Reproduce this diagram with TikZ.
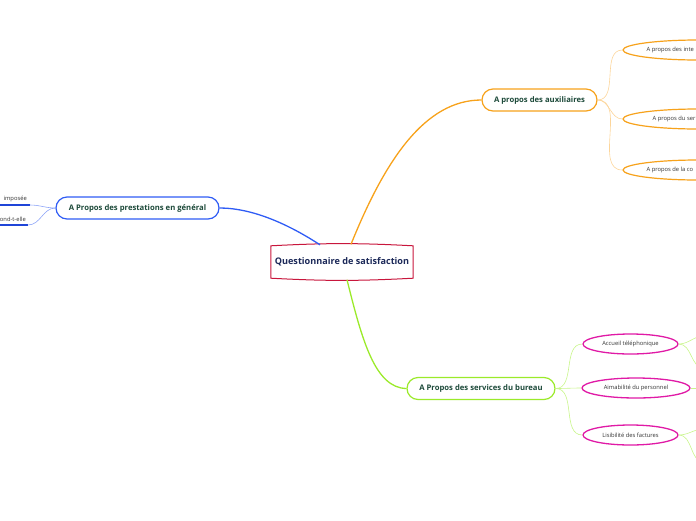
\documentclass[tikz,border=0pt]{standalone}
\usepackage{fontspec}
\setmainfont{Open Sans}
\usetikzlibrary{shapes.geometric}
\definecolor{rootred}{HTML}{C8163C}
\definecolor{rootink}{HTML}{1B2858}
\definecolor{nodeink}{HTML}{1D4A3A}
\definecolor{leafink}{HTML}{333333}
\definecolor{bluec}{HTML}{2F5CF5}
\definecolor{bluesoft}{HTML}{8FA6F8}
\definecolor{bluestrong}{HTML}{1F45D8}
\definecolor{orangec}{HTML}{F7A21B}
\definecolor{orangesoft}{HTML}{FCD59A}
\definecolor{greenc}{HTML}{9BEA2A}
\definecolor{greensoft}{HTML}{C8F58A}
\definecolor{pinkc}{HTML}{E01AA6}

\tikzset{
  topic/.style={draw, rounded corners=11pt, line width=1.2pt, fill=white, minimum height=22pt,
    text=nodeink, font=\fontsize{7.7}{9}\selectfont\bfseries},
  oleaf/.style={ellipse, draw=orangec, line width=1.2pt, fill=white, minimum width=150pt, minimum height=20pt},
  pleaf/.style={ellipse, draw=pinkc, line width=1.3pt, fill=white, minimum height=20pt,
    text=leafink, font=\fontsize{5.8}{7}\selectfont},
  leaftext/.style={text=leafink, font=\fontsize{5.8}{7}\selectfont, inner sep=0pt},
  trunk/.style={line width=1.3pt},
  twig/.style={line width=0.6pt},
}

\begin{document}
\begin{tikzpicture}[x=1pt, y=-1pt]
    \useasboundingbox (0,0) rectangle (696,520);
    % centre
    \node[minimum width=142pt, minimum height=32pt, text=rootink, font=\fontsize{9.1}{11}\selectfont\bfseries] (root) at (342,262) {Questionnaire de satisfaction};
    \draw[rootred, line width=1pt] (root.north west) to[bend left=3] (root.north east) -- (root.south east) to[bend left=3] (root.south west) -- cycle;
    % main topics
    \node[topic, draw=bluec, minimum width=163pt] (gen) at (137.5,208) {A Propos des prestations en général};
    \node[topic, draw=orangec, minimum width=115pt] (aux) at (539.5,100) {A propos des auxiliaires};
    \node[topic, draw=greenc, minimum width=148pt] (bur) at (481,388.5) {A Propos des services du bureau};
    \draw[trunk, bluec] ([xshift=-22pt,yshift=1pt]root.north) .. controls (285,222) and (250,208) .. (gen.east);
    \draw[trunk, orangec] ([xshift=9pt,yshift=1.5pt]root.north) .. controls (385,160) and (425,100) .. (aux.west);
    \draw[trunk, greenc] ([xshift=5pt,yshift=-1.5pt]root.south) .. controls (362,340) and (375,388) .. (bur.west);
    % left leaves
    \coordinate (imp) at (30,205);
    \coordinate (ond) at (28,225);
    \node[leaftext, anchor=south east] (impt) at ([shift={(-3pt,3pt)}]imp) {imposée};
    \node[leaftext, anchor=south east] (ondt) at ([shift={(-2pt,3pt)}]ond) {ond-t-elle};
    \draw[line width=1.5pt, bluestrong] (imp) -- ++(-40,0);
    \draw[line width=1.5pt, bluestrong] (ond) -- ++(-40,0);
    \draw[twig, bluesoft] (gen.west) to[out=180,in=0] (imp);
    \draw[twig, bluesoft] (gen.west) to[out=180,in=0] (ond);
    % orange leaves
    \node[oleaf] (int) at (698,50) {};
    \node[oleaf] (ser) at (698,119) {};
    \node[oleaf] (com) at (698,170) {};
    \node[leaftext, anchor=west] (intt) at ([xshift=24pt]int.west) {A propos des inte};
    \node[leaftext, anchor=west] (sert) at ([xshift=30pt]ser.west) {A propos du ser};
    \node[leaftext, anchor=west] (comt) at ([xshift=24pt]com.west) {A propos de la co};
    \foreach \leaf in {int,ser,com}
      \draw[twig, orangesoft] (aux.east) to[out=0,in=180] (\leaf.west);
    % pink leaves
    \node[pleaf, minimum width=95pt] (tel) at (630.5,344) {Accueil téléphonique};
    \node[pleaf, minimum width=108pt] (ama) at (636,388) {Aimabilité du personnel};
    \node[pleaf, minimum width=95pt] (fac) at (630.5,435) {Lisibilité des factures};
    \foreach \leaf in {tel,ama,fac}
      \draw[twig, greensoft] (bur.east) to[out=0,in=180] (\leaf.west);
    \coordinate (tel1) at (704,336);
    \coordinate (tel2) at (704,368);
    \coordinate (ama1) at (704,388);
    \coordinate (fac1) at (704,429);
    \coordinate (fac2) at (704,462);
    \draw[twig, greensoft] (tel.east) to[out=0,in=180] (tel1);
    \draw[twig, greensoft] (tel.east) to[out=0,in=180] (tel2);
    \draw[twig, greensoft] (ama.east) -- (ama1);
    \draw[twig, greensoft] (fac.east) to[out=0,in=180] (fac1);
    \draw[twig, greensoft] (fac.east) to[out=0,in=180] (fac2);
  \end{tikzpicture}
\end{document}
